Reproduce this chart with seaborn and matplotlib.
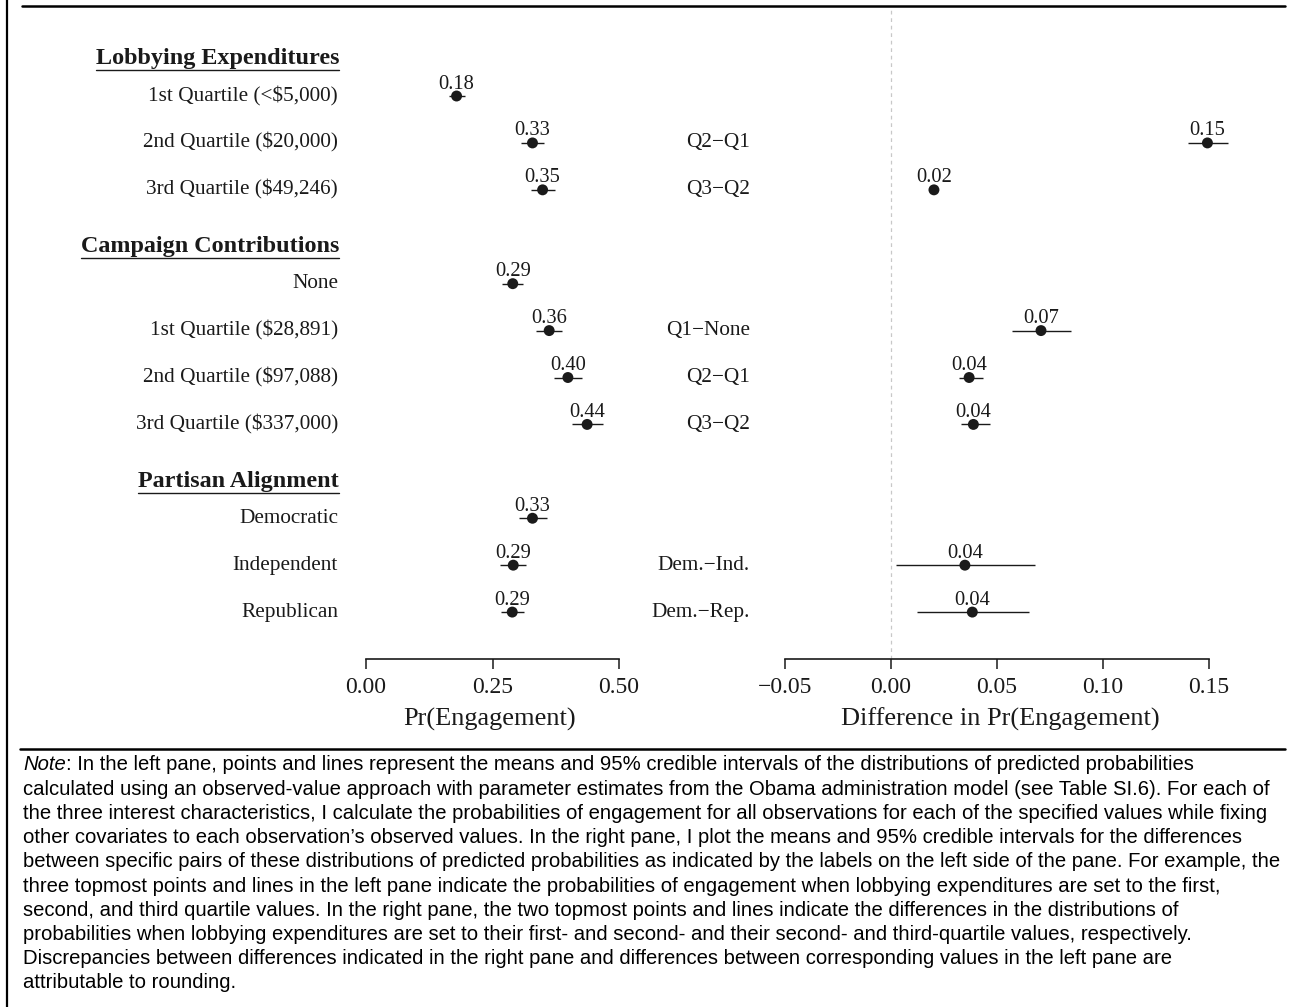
import numpy as np
import pandas as pd
import matplotlib
matplotlib.use("Agg")
import matplotlib.pyplot as plt
import matplotlib.transforms as mtransforms
from matplotlib.lines import Line2D
import seaborn as sns

# ---------------- data ----------------
header_labels = ["Lobbying Expenditures", "Campaign Contributions", "Partisan Alignment"]
header_slots = [0, 4, 9]

left_labels = ["1st Quartile (<$5,000)", "2nd Quartile ($20,000)", "3rd Quartile ($49,246)",
               "None", "1st Quartile ($28,891)", "2nd Quartile ($97,088)", "3rd Quartile ($337,000)",
               "Democratic", "Independent", "Republican"]
left_slots = [1, 2, 3, 5, 6, 7, 8, 10, 11, 12]
left_mean = [0.179, 0.329, 0.349, 0.290, 0.362, 0.399, 0.437, 0.329, 0.291, 0.289]
left_lo = [0.164, 0.306, 0.326, 0.269, 0.336, 0.372, 0.408, 0.302, 0.265, 0.266]
left_hi = [0.196, 0.352, 0.373, 0.311, 0.387, 0.426, 0.468, 0.357, 0.317, 0.313]
left_text = ["0.18", "0.33", "0.35", "0.29", "0.36", "0.40", "0.44", "0.33", "0.29", "0.29"]

right_labels = ["Q2\u2212Q1", "Q3\u2212Q2", "Q1\u2212None", "Q2\u2212Q1", "Q3\u2212Q2",
                "Dem.\u2212Ind.", "Dem.\u2212Rep."]
right_slots = [2, 3, 6, 7, 8, 11, 12]
right_mean = [0.1494, 0.0204, 0.0709, 0.0370, 0.0390, 0.0350, 0.0385]
right_lo = [0.1400, 0.0190, 0.0570, 0.0320, 0.0330, 0.0025, 0.0126]
right_hi = [0.1590, 0.0220, 0.0850, 0.0435, 0.0470, 0.0680, 0.0650]
right_text = ["0.15", "0.02", "0.07", "0.04", "0.04", "0.04", "0.04"]

left_ticks = [0.00, 0.25, 0.50]
right_ticks = [-0.05, 0.00, 0.05, 0.10, 0.15]

note_lines = [
    ": In the left pane, points and lines represent the means and 95% credible intervals of the distributions of predicted probabilities",
    "calculated using an observed-value approach with parameter estimates from the Obama administration model (see Table SI.6). For each of",
    "the three interest characteristics, I calculate the probabilities of engagement for all observations for each of the specified values while fixing",
    "other covariates to each observation\u2019s observed values. In the right pane, I plot the means and 95% credible intervals for the differences",
    "between specific pairs of these distributions of predicted probabilities as indicated by the labels on the left side of the pane. For example, the",
    "three topmost points and lines in the left pane indicate the probabilities of engagement when lobbying expenditures are set to the first,",
    "second, and third quartile values. In the right pane, the two topmost points and lines indicate the differences in the distributions of",
    "probabilities when lobbying expenditures are set to their first- and second- and their second- and third-quartile values, respectively.",
    "Discrepancies between differences indicated in the right pane and differences between corresponding values in the left pane are",
    "attributable to rounding.",
]

df_left = pd.DataFrame({"slot": left_slots, "mean": left_mean, "lo": left_lo, "hi": left_hi,
                        "text": left_text, "label": left_labels})
df_right = pd.DataFrame({"slot": right_slots, "mean": right_mean, "lo": right_lo, "hi": right_hi,
                         "text": right_text, "label": right_labels})

# ---------------- style ----------------
sns.set_theme(style="white")
plt.rcParams["font.family"] = ["Liberation Serif", "DejaVu Serif"]
plt.rcParams["axes.unicode_minus"] = True

W, H = 1297, 1007
fig = plt.figure(figsize=(W / 100, H / 100), dpi=100)
fig.patch.set_facecolor("white")

INK = "#1a1a1a"

def px_x(p):
    return p / W

def px_y(p):
    return 1 - p / H

top_px, bot_px = 8, 659
ax1 = fig.add_axes([px_x(340), px_y(bot_px), px_x(640) - px_x(340), px_y(top_px) - px_y(bot_px)])
ax2 = fig.add_axes([px_x(760), px_y(bot_px), px_x(1240) - px_x(760), px_y(top_px) - px_y(bot_px)])

ylim = (13.0, -0.876)

def draw_pane(ax, df, xlim, ticks, xlabel):
    ax.hlines(df["slot"], df["lo"], df["hi"], color=INK, lw=1.0, zorder=2)
    sns.scatterplot(data=df, x="mean", y="slot", ax=ax, s=62, color=INK,
                    edgecolor="none", linewidth=0, zorder=3, legend=False)
    for _, r in df.iterrows():
        ax.annotate(r["text"], xy=(r["mean"], r["slot"]), xytext=(0, 5.4),
                    textcoords="offset points", ha="center", va="baseline",
                    fontsize=14.8, color=INK)
    ax.set_xlim(*xlim)
    ax.set_ylim(*ylim)
    ax.set_facecolor("none")
    for s in ["left", "top", "right"]:
        ax.spines[s].set_visible(False)
    ax.spines["bottom"].set_bounds(ticks[0], ticks[-1])
    ax.spines["bottom"].set_color(INK)
    ax.spines["bottom"].set_linewidth(1.2)
    ax.set_xticks(ticks)
    ax.set_xticklabels([f"{t:.2f}".replace("-", "\u2212") for t in ticks])
    ax.tick_params(axis="x", direction="out", length=7, width=1.1, color=INK,
                   labelsize=17, labelcolor=INK, pad=6, bottom=True)
    ax.set_yticks([])
    ax.set_ylabel("")
    ax.set_xlabel(xlabel, fontsize=19, color=INK, labelpad=7)

# left pane: x = 0 at px 366, 0.5 at px 619
lk = 506.0
draw_pane(ax1, df_left, ((340 - 366) / lk, (640 - 366) / lk), left_ticks, "Pr(Engagement)")
# right pane: x = 0 at px 890.7, 2120 px per unit
rk = 2120.0
ax2.axvline(0, color="#c8c8c8", lw=0.9, ls=(0, (3, 3)), zorder=1)
draw_pane(ax2, df_right, ((760 - 890.7) / rk, (1240 - 890.7) / rk), right_ticks,
          "Difference in Pr(Engagement)")

# row labels
trans_l = mtransforms.blended_transform_factory(fig.transFigure, ax1.transData)
for lab, sl in zip(left_labels, left_slots):
    fig.text(px_x(338), sl, lab, transform=trans_l, ha="right", va="center",
             fontsize=15.3, color=INK)
header_texts = []
for lab, sl in zip(header_labels, header_slots):
    t = fig.text(px_x(339), sl + 0.21, lab, transform=trans_l, ha="right", va="center",
                 fontsize=17.4, fontweight="bold", color=INK)
    header_texts.append(t)
for lab, sl in zip(right_labels, right_slots):
    fig.text(px_x(750), sl, lab, transform=trans_l, ha="right", va="center",
             fontsize=15.3, color=INK)

# frame lines
fig.add_artist(Line2D([px_x(7), px_x(7)], [0, 1], transform=fig.transFigure, color="black", lw=1.6))
fig.add_artist(Line2D([px_x(22), px_x(1285)], [px_y(5.5), px_y(5.5)], transform=fig.transFigure,
                      color="black", lw=1.8))
fig.add_artist(Line2D([px_x(20), px_x(1285)], [px_y(749), px_y(749)], transform=fig.transFigure,
                      color="black", lw=1.8))

# note text: fit font size so the widest line spans the measured width
fig.canvas.draw()
renderer = fig.canvas.get_renderer()
widths = []
for i, line in enumerate(note_lines):
    s = ("Note" + line) if i == 0 else line
    probe = fig.text(0, 0, s, fontfamily="Liberation Sans", fontsize=10)
    widths.append(probe.get_window_extent(renderer).width)
    probe.remove()
note_fs = 10 * (1284 - 23) / max(widths)

line_y0, line_dy = 765, 24.2
t_note = fig.text(px_x(23), px_y(line_y0), "Note", fontfamily="Liberation Sans", style="italic",
                  fontsize=note_fs, va="center", ha="left", color="black")
fig.add_artist(matplotlib.text.Annotation(note_lines[0], xy=(1, 0), xycoords=t_note,
                                          va="bottom", ha="left", fontfamily="Liberation Sans",
                                          fontsize=note_fs, color="black"))
for i, line in enumerate(note_lines[1:], start=1):
    fig.text(px_x(23), px_y(line_y0 + i * line_dy), line, fontfamily="Liberation Sans",
             fontsize=note_fs, va="center", ha="left", color="black")

# underline headers
fig.canvas.draw()
renderer = fig.canvas.get_renderer()
for t in header_texts:
    bb = t.get_window_extent(renderer)
    yline = bb.y0 - 1.0
    fig.add_artist(Line2D([bb.x0 / W, bb.x1 / W], [yline / H, yline / H],
                          transform=fig.transFigure, color=INK, lw=1.0))

fig.savefig("out.png", dpi=100, facecolor="white")
